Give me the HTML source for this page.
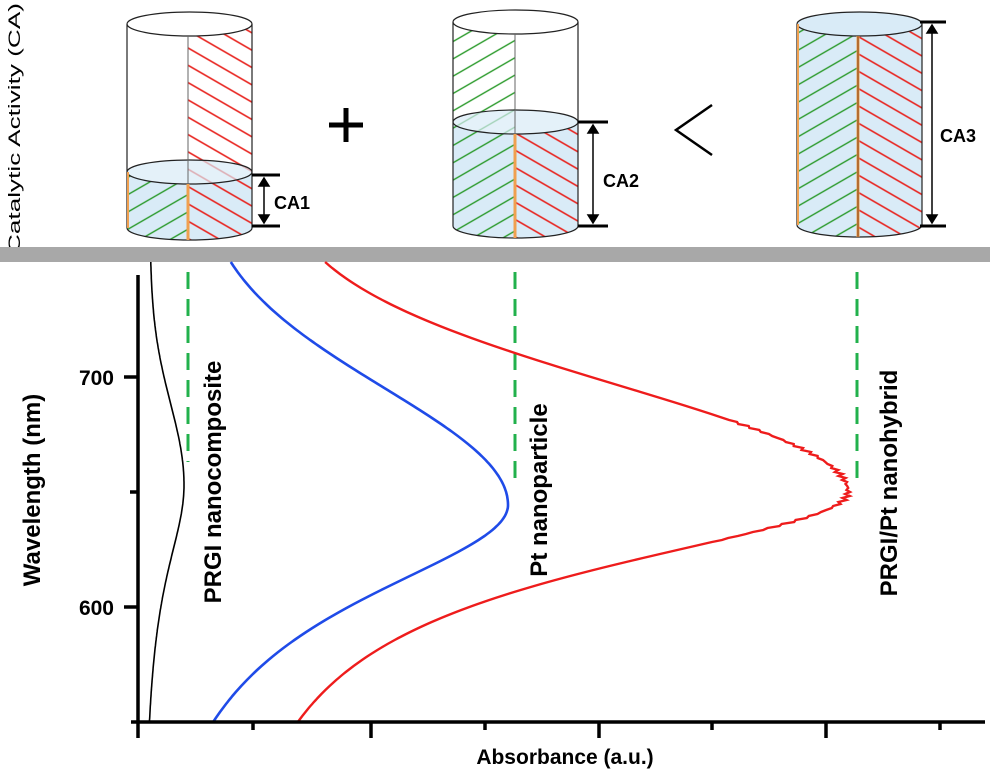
<!DOCTYPE html>
<html><head><meta charset="utf-8"><style>
body{margin:0;background:#fff}
svg{display:block}
text{font-family:"Liberation Sans",Arial,sans-serif;font-weight:bold}
</style></head><body>
<svg id="s" width="1008" height="775" viewBox="0 0 1008 775" xmlns="http://www.w3.org/2000/svg">
<defs>
<pattern id="rh" width="15" height="15" patternUnits="userSpaceOnUse" patternTransform="rotate(30)">
<line x1="0" y1="7.5" x2="15" y2="7.5" stroke="#e8231e" stroke-width="1.6"/></pattern>
<pattern id="gh" width="15" height="15" patternUnits="userSpaceOnUse" patternTransform="rotate(-30)">
<line x1="0" y1="7.5" x2="15" y2="7.5" stroke="#2a9a2a" stroke-width="1.4"/></pattern>
</defs>
<!-- Cylinder 1 -->
<g>
<path d="M127 172 A62.5 12 0 0 0 252 172 L252 228 A62.5 12 0 0 1 127 228 Z" fill="#d9ebf7"/>
<path d="M188 24 L252 24 L252 228 A62.5 12 0 0 1 188 240 Z" fill="url(#rh)"/>
<path d="M127 172 A62.5 12 0 0 0 188 184 L188 240 A62.5 12 0 0 1 127 228 Z" fill="url(#gh)"/>
<ellipse cx="189.5" cy="172" rx="62.5" ry="12" fill="#d9ebf7" fill-opacity="0.7" stroke="#222" stroke-width="1.2"/>
<ellipse cx="189.5" cy="24" rx="62.5" ry="12" fill="#fff" stroke="#222" stroke-width="1.2"/>
<path d="M127 24 V228 A62.5 12 0 0 0 252 228 V24" fill="none" stroke="#222" stroke-width="1.2"/>
<line x1="188" y1="36" x2="188" y2="240" stroke="#666" stroke-width="1"/>
<line x1="188" y1="184" x2="188" y2="240" stroke="#f0a050" stroke-width="3"/>
<line x1="128" y1="172" x2="128" y2="228" stroke="#f0a050" stroke-width="2"/>
</g>
<!-- Cylinder 2 -->
<g>
<path d="M453 122 A62.5 12 0 0 0 578 122 L578 226 A62.5 12 0 0 1 453 226 Z" fill="#d9ebf7"/>
<path d="M453 22 L515 22 L515 238 A62.5 12 0 0 1 453 226 Z" fill="url(#gh)"/>
<path d="M515 134 A62.5 12 0 0 0 578 122 L578 226 A62.5 12 0 0 1 515 238 Z" fill="url(#rh)"/>
<ellipse cx="515.5" cy="122" rx="62.5" ry="12" fill="#d9ebf7" fill-opacity="0.7" stroke="#222" stroke-width="1.2"/>
<ellipse cx="515.5" cy="22" rx="62.5" ry="12" fill="#fff" stroke="#222" stroke-width="1.2"/>
<path d="M453 22 V226 A62.5 12 0 0 0 578 226 V22" fill="none" stroke="#222" stroke-width="1.2"/>
<line x1="515" y1="34" x2="515" y2="238" stroke="#666" stroke-width="1"/>
<line x1="515" y1="134" x2="515" y2="238" stroke="#f0a050" stroke-width="3"/>
</g>
<!-- Cylinder 3 -->
<g>
<path d="M797 24 A62.5 12 0 0 0 922 24 L922 225 A62.5 12 0 0 1 797 225 Z" fill="#d9ebf7"/>
<path d="M797 24 L858 36 L858 237 A62.5 12 0 0 1 797 225 Z" fill="url(#gh)"/>
<path d="M858 36 L922 24 L922 225 A62.5 12 0 0 1 858 237 Z" fill="url(#rh)"/>
<ellipse cx="859.5" cy="24" rx="62.5" ry="12" fill="#d9ebf7" stroke="#222" stroke-width="1.2"/>
<path d="M797 24 V225 A62.5 12 0 0 0 922 225 V24" fill="none" stroke="#222" stroke-width="1.2"/>
<line x1="858" y1="36" x2="858" y2="237" stroke="#f0a050" stroke-width="3"/>
<line x1="858" y1="36" x2="858" y2="237" stroke="#7a3a10" stroke-width="1"/>
<line x1="798" y1="24" x2="798" y2="225" stroke="#f0a050" stroke-width="2"/>
</g>
<!-- CA markers -->
<g stroke="#000" stroke-width="3">
<line x1="252" y1="175" x2="280" y2="175"/><line x1="252" y1="226" x2="280" y2="226"/>
<line x1="578" y1="122" x2="608" y2="122"/><line x1="578" y1="226" x2="608" y2="226"/>
<line x1="920" y1="22" x2="946" y2="22"/><line x1="920" y1="226" x2="946" y2="226"/>
</g>
<g stroke="#000" stroke-width="1.5" fill="#000">
<line x1="264" y1="178" x2="264" y2="223"/><path d="M259 186 L264 178 L269 186 Z M259 215 L264 223 L269 215Z"/>
<line x1="593" y1="125" x2="593" y2="223"/><path d="M588 133 L593 125 L598 133 Z M588 215 L593 223 L598 215Z"/>
<line x1="932" y1="25" x2="932" y2="223"/><path d="M927 33 L932 25 L937 33 Z M927 215 L932 223 L937 215Z"/>
</g>
<text x="274" y="209" font-size="18">CA1</text>
<text x="603" y="187" font-size="18">CA2</text>
<text x="940" y="142" font-size="18">CA3</text>
<path d="M329 125 H363 M346 108 V142" stroke="#000" stroke-width="5"/>
<path d="M712 105 L676 130 L712 155" fill="none" stroke="#000" stroke-width="2.5"/>
<text transform="translate(20,128) rotate(-90)" text-anchor="middle" font-size="17" textLength="250" lengthAdjust="spacingAndGlyphs" style="font-weight:normal">Catalytic Activity (CA)</text>
<rect x="0" y="247" width="990" height="15" fill="#a8a8a8"/>
<!-- dashed green -->
<g stroke="#22b14c" stroke-width="3" stroke-dasharray="17,10">
<line x1="188" y1="272" x2="188" y2="462"/>
<line x1="515" y1="272" x2="515" y2="487"/>
<line x1="857" y1="272" x2="857" y2="485"/>
</g>
<!-- curves -->
<path id="cb" fill="none" stroke="#000" stroke-width="1.6"/>
<path id="cbl" fill="none" stroke="#1f4be8" stroke-width="2.6"/>
<path id="cr" fill="none" stroke="#ee1c1c" stroke-width="2.4"/>
<!-- axes -->
<g stroke="#000" stroke-width="3.5">
<line x1="138" y1="275" x2="138" y2="738"/>
<line x1="131" y1="722" x2="985" y2="722"/>
<line x1="124" y1="377" x2="138" y2="377"/><line x1="124" y1="607" x2="138" y2="607"/>
<line x1="130" y1="492" x2="138" y2="492"/>
<line x1="253" y1="722" x2="253" y2="730"/><line x1="371" y1="722" x2="371" y2="738"/>
<line x1="485" y1="722" x2="485" y2="730"/><line x1="599" y1="722" x2="599" y2="738"/>
<line x1="712" y1="722" x2="712" y2="730"/><line x1="826" y1="722" x2="826" y2="738"/>
<line x1="940" y1="722" x2="940" y2="730"/>
</g>
<text x="114" y="385" text-anchor="end" font-size="21">700</text>
<text x="114" y="615" text-anchor="end" font-size="21">600</text>
<text transform="translate(40,490) rotate(-90)" text-anchor="middle" font-size="24">Wavelength (nm)</text>
<text x="565" y="764" text-anchor="middle" font-size="21">Absorbance (a.u.)</text>
<text transform="translate(221,482) rotate(-90)" text-anchor="middle" font-size="24">PRGI nanocomposite</text>
<text transform="translate(547,490) rotate(-90)" text-anchor="middle" font-size="24">Pt nanoparticle</text>
<text transform="translate(897,483) rotate(-90)" text-anchor="middle" font-size="24">PRGI/Pt nanohybrid</text>
</svg>
<script>
function curve(id,bt,wt,bb,wb,peak,yc,noise){
 var d="";
 for(var y=262;y<=722;y+=2){
  var x;
  if(y<yc){var g=Math.exp(-Math.pow((y-yc)/wt,2));x=bt+(peak-bt)*g;}
  else{var g=1/(1+Math.pow((y-yc)/wb,2));x=bb+(peak-bb)*g;}
  if(noise&&g>0.8)x+=Math.sin(y*1.7)*3*g;
  d+=(d?"L":"M")+x.toFixed(1)+" "+y;
 }
 document.getElementById(id).setAttribute("d",d);
}
curve("cb",150,115,142,110,184,485,0);
curve("cbl",195,165,120,122,508,505,0);
curve("cr",270,150,200,97,848,492,1);
</script>
</body></html>
